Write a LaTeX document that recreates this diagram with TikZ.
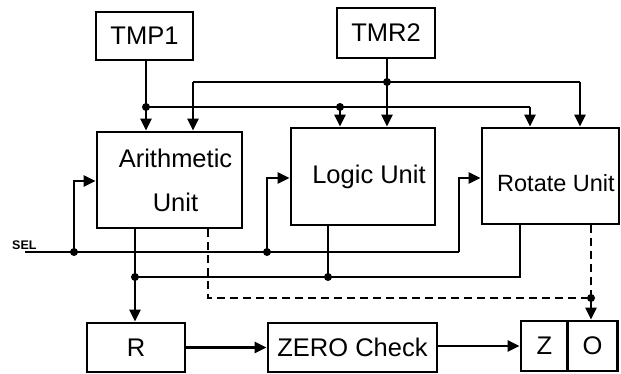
\documentclass[tikz,border=0pt]{standalone}
\usepackage{fontspec}
\setmainfont{Liberation Sans}
\usetikzlibrary{arrows.meta}
\tikzset{
  box/.style={draw, line width=2.8pt, inner sep=0pt, font=\fontsize{25.5}{28}\selectfont},
  wire/.style={line width=2.4pt},
  arr/.style={wire, -{Triangle[length=12pt,width=11pt]}},
  dashwire/.style={wire, dash pattern=on 8pt off 5pt},
}
\begin{document}
\begin{tikzpicture}[x=1pt,y=-1pt]
\useasboundingbox (0,0) rectangle (621,374);
% boxes
\node[box, minimum width=97pt, minimum height=48pt] (tmp1) at (144.5,36) {TMP1};
\node[box, minimum width=98pt, minimum height=50pt] (tmr2) at (386,33) {TMR2};
\node[box, minimum width=145pt, minimum height=96pt, align=center, font=\fontsize{25.5}{44}\selectfont] (arith) at (169.5,180) {\hspace*{12pt}Arithmetic\\\hspace*{12pt}Unit};
\node[box, minimum width=144pt, minimum height=97pt] (logic) at (363,176.5) {\hspace*{12pt}Logic Unit};
\node[box, minimum width=137pt, minimum height=96pt] (rot) at (550.5,176) {};
\node[anchor=west, inner sep=0pt, font=\fontsize{23.5}{26}\selectfont] (rottext) at (497,183) {Rotate Unit};
\node[box, minimum width=98pt, minimum height=49pt] (r) at (136,347.5) {R};
\node[box, minimum width=169pt, minimum height=49pt] (zero) at (352.5,347.5) {ZERO Check};
\node[box, minimum width=47pt, minimum height=50pt] (z) at (544.5,346) {Z};
\node[box, minimum width=50pt, minimum height=50pt] (o) at (592.5,346) {O};
\node[anchor=south west, inner sep=0pt, font=\bfseries\fontsize{12.5}{13}\selectfont] (sel) at (12,250) {SEL};
% coordinates
\coordinate (j1) at (146,107);
\coordinate (j3) at (340,107);
\coordinate (b1r) at (530,107);
\coordinate (j2) at (387,82);
\coordinate (b2l) at (193,82);
\coordinate (b2r) at (580,82);
\coordinate (selstart) at (25,252);
\coordinate (s1) at (74,252);
\coordinate (s2) at (267,252);
\coordinate (s3) at (459,252);
\coordinate (s1t) at (74,181);
\coordinate (s2t) at (267,178);
\coordinate (s3t) at (459,178);
\coordinate (o1) at (135,277);
\coordinate (o2) at (328,277);
\coordinate (o3) at (520,277);
\coordinate (d1) at (208,298);
\coordinate (d2) at (591,298);
% TMP1 bus
\draw[wire] (tmp1.south -| j1) -- (j1);
\draw[arr] (j1) -- (j1 |- arith.north);
\draw[wire] (j1) -- (b1r);
\draw[arr] (b1r) -- (b1r |- rot.north);
\draw[arr] (j3) -- (j3 |- logic.north);
% TMR2 bus
\draw[wire] (tmr2.south -| j2) -- (j2);
\draw[arr] (j2) -- (j2 |- logic.north);
\draw[wire] (b2l) -- (b2r);
\draw[arr] (b2l) -- (b2l |- arith.north);
\draw[arr] (b2r) -- (b2r |- rot.north);
% SEL
\draw[wire] (selstart) -- (s3);
\draw[arr] (s1) -- (s1t) -- (s1t -| arith.west);
\draw[arr] (s2) -- (s2t) -- (s2t -| logic.west);
\draw[arr] (s3) -- (s3t) -- (s3t -| rot.west);
% output bus
\draw[wire] (arith.south -| o1) -- (o1);
\draw[arr] (o1) -- (o1 |- r.north);
\draw[wire] (o1) -- (o3) -- (o3 |- rot.south);
\draw[wire] (logic.south -| o2) -- (o2);
% dashed flags
\draw[dashwire] (arith.south -| d1) -- (d1) -- (d2);
\draw[dashwire] (rot.south -| d2) -- (d2);
\draw[arr] (d2) -- (d2 |- o.north);
% bottom row
\draw[arr] (r) -- (zero);
\draw[arr] (zero.east |- z.west) -- (z.west);
% junction dots
\foreach \p in {j1,j2,j3,s1,s2,o1,o2,d2} \fill (\p) circle (4pt);
\end{tikzpicture}
\end{document}
